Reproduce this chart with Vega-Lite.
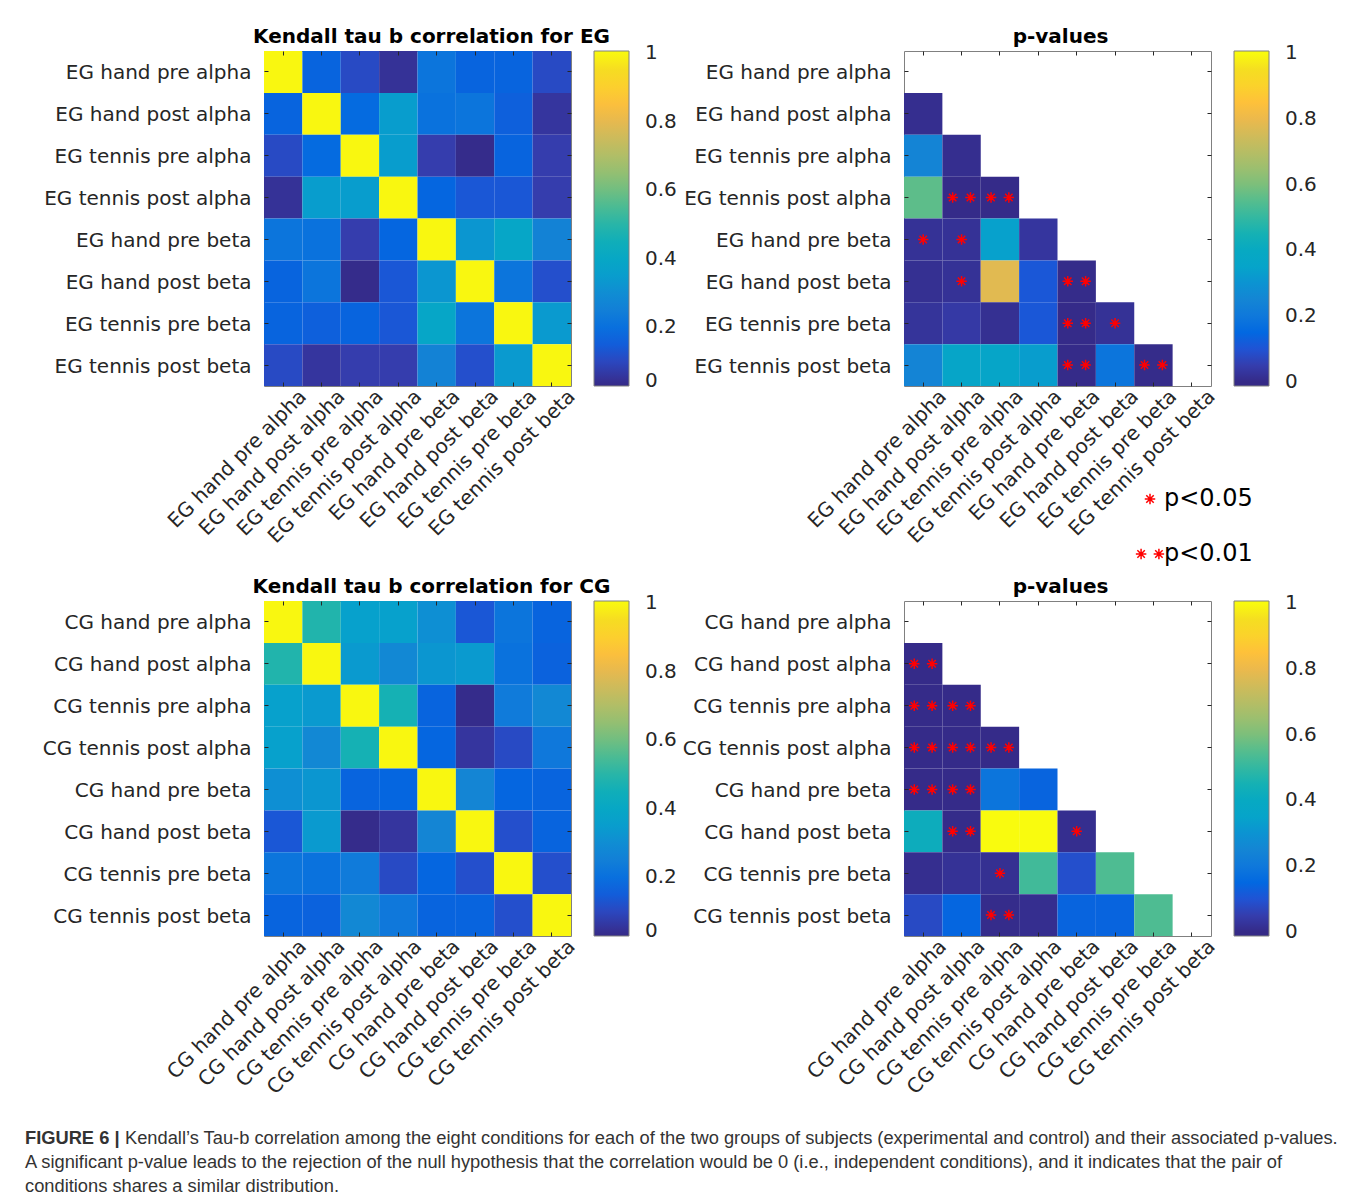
{
"$schema":"https://vega.github.io/schema/vega-lite/v6.json",
"background":"white",
"padding":{"left":25,"top":26,"right":5,"bottom":0},
"autosize":{"type":"pad"},
"bounds":"flush",
"columns":2,
"spacing":{"row":215,"column":333},
"resolve":{"scale":{"color":"independent","shape":"independent"},"legend":{"color":"independent","shape":"independent"}},
"config":{
 "font":"DejaVu Sans",
 "view":{"stroke":"#808080","strokeWidth":1},
 "axis":{"labelFont":"DejaVu Sans","labelFontSize":20,"labelColor":"#262626","domain":false,"ticks":true,"tickColor":"#262626","tickSize":-4,"tickWidth":1,"grid":false,"labelOverlap":false,"labelLimit":400},
 "title":{"font":"DejaVu Sans","fontSize":20,"fontWeight":"bold","color":"#000000","anchor":"middle","frame":"group","offset":4},
 "legend":{"labelFont":"DejaVu Sans","labelOverlap":false,"labelLimit":300}
},
"datasets":{
"egCorr":[
{"r":"EG hand pre alpha","c":"EG hand pre alpha","v":1},{"r":"EG hand pre alpha","c":"EG hand post alpha","v":0.166},{"r":"EG hand pre alpha","c":"EG tennis pre alpha","v":0.107},{"r":"EG hand pre alpha","c":"EG tennis post alpha","v":0.049},{"r":"EG hand pre alpha","c":"EG hand pre beta","v":0.215},{"r":"EG hand pre alpha","c":"EG hand post beta","v":0.166},{"r":"EG hand pre alpha","c":"EG tennis pre beta","v":0.166},{"r":"EG hand pre alpha","c":"EG tennis post beta","v":0.107},
{"r":"EG hand post alpha","c":"EG hand pre alpha","v":0.166},{"r":"EG hand post alpha","c":"EG hand post alpha","v":1},{"r":"EG hand post alpha","c":"EG tennis pre alpha","v":0.185},{"r":"EG hand post alpha","c":"EG tennis post alpha","v":0.351},{"r":"EG hand post alpha","c":"EG hand pre beta","v":0.205},{"r":"EG hand post alpha","c":"EG hand post beta","v":0.215},{"r":"EG hand post alpha","c":"EG tennis pre beta","v":0.156},{"r":"EG hand post alpha","c":"EG tennis post beta","v":0.058},
{"r":"EG tennis pre alpha","c":"EG hand pre alpha","v":0.107},{"r":"EG tennis pre alpha","c":"EG hand post alpha","v":0.185},{"r":"EG tennis pre alpha","c":"EG tennis pre alpha","v":1},{"r":"EG tennis pre alpha","c":"EG tennis post alpha","v":0.351},{"r":"EG tennis pre alpha","c":"EG hand pre beta","v":0.078},{"r":"EG tennis pre alpha","c":"EG hand post beta","v":0.034},{"r":"EG tennis pre alpha","c":"EG tennis pre beta","v":0.166},{"r":"EG tennis pre alpha","c":"EG tennis post beta","v":0.078},
{"r":"EG tennis post alpha","c":"EG hand pre alpha","v":0.049},{"r":"EG tennis post alpha","c":"EG hand post alpha","v":0.351},{"r":"EG tennis post alpha","c":"EG tennis pre alpha","v":0.351},{"r":"EG tennis post alpha","c":"EG tennis post alpha","v":1},{"r":"EG tennis post alpha","c":"EG hand pre beta","v":0.171},{"r":"EG tennis post alpha","c":"EG hand post beta","v":0.136},{"r":"EG tennis post alpha","c":"EG tennis pre beta","v":0.136},{"r":"EG tennis post alpha","c":"EG tennis post beta","v":0.078},
{"r":"EG hand pre beta","c":"EG hand pre alpha","v":0.215},{"r":"EG hand pre beta","c":"EG hand post alpha","v":0.205},{"r":"EG hand pre beta","c":"EG tennis pre alpha","v":0.078},{"r":"EG hand pre beta","c":"EG tennis post alpha","v":0.171},{"r":"EG hand pre beta","c":"EG hand pre beta","v":1},{"r":"EG hand pre beta","c":"EG hand post beta","v":0.332},{"r":"EG hand pre beta","c":"EG tennis pre beta","v":0.39},{"r":"EG hand pre beta","c":"EG tennis post beta","v":0.263},
{"r":"EG hand post beta","c":"EG hand pre alpha","v":0.166},{"r":"EG hand post beta","c":"EG hand post alpha","v":0.215},{"r":"EG hand post beta","c":"EG tennis pre alpha","v":0.034},{"r":"EG hand post beta","c":"EG tennis post alpha","v":0.136},{"r":"EG hand post beta","c":"EG hand pre beta","v":0.332},{"r":"EG hand post beta","c":"EG hand post beta","v":1},{"r":"EG hand post beta","c":"EG tennis pre beta","v":0.215},{"r":"EG hand post beta","c":"EG tennis post beta","v":0.117},
{"r":"EG tennis pre beta","c":"EG hand pre alpha","v":0.166},{"r":"EG tennis pre beta","c":"EG hand post alpha","v":0.156},{"r":"EG tennis pre beta","c":"EG tennis pre alpha","v":0.166},{"r":"EG tennis pre beta","c":"EG tennis post alpha","v":0.136},{"r":"EG tennis pre beta","c":"EG hand pre beta","v":0.39},{"r":"EG tennis pre beta","c":"EG hand post beta","v":0.215},{"r":"EG tennis pre beta","c":"EG tennis pre beta","v":1},{"r":"EG tennis pre beta","c":"EG tennis post beta","v":0.342},
{"r":"EG tennis post beta","c":"EG hand pre alpha","v":0.107},{"r":"EG tennis post beta","c":"EG hand post alpha","v":0.058},{"r":"EG tennis post beta","c":"EG tennis pre alpha","v":0.078},{"r":"EG tennis post beta","c":"EG tennis post alpha","v":0.078},{"r":"EG tennis post beta","c":"EG hand pre beta","v":0.263},{"r":"EG tennis post beta","c":"EG hand post beta","v":0.117},{"r":"EG tennis post beta","c":"EG tennis pre beta","v":0.342},{"r":"EG tennis post beta","c":"EG tennis post beta","v":1}
],
"egP":[
{"r":"EG hand post alpha","c":"EG hand pre alpha","p":0.01,"sig":""},
{"r":"EG tennis pre alpha","c":"EG hand pre alpha","p":0.245,"sig":""},{"r":"EG tennis pre alpha","c":"EG hand post alpha","p":0.01,"sig":""},
{"r":"EG tennis post alpha","c":"EG hand pre alpha","p":0.56,"sig":""},{"r":"EG tennis post alpha","c":"EG hand post alpha","p":0.002,"sig":"**"},{"r":"EG tennis post alpha","c":"EG tennis pre alpha","p":0.002,"sig":"**"},
{"r":"EG hand pre beta","c":"EG hand pre alpha","p":0.02,"sig":"*"},{"r":"EG hand pre beta","c":"EG hand post alpha","p":0.02,"sig":"*"},{"r":"EG hand pre beta","c":"EG tennis pre alpha","p":0.34,"sig":""},{"r":"EG hand pre beta","c":"EG tennis post alpha","p":0.03,"sig":""},
{"r":"EG hand post beta","c":"EG hand pre alpha","p":0.015,"sig":""},{"r":"EG hand post beta","c":"EG hand post alpha","p":0.02,"sig":"*"},{"r":"EG hand post beta","c":"EG tennis pre alpha","p":0.78,"sig":""},{"r":"EG hand post beta","c":"EG tennis post alpha","p":0.11,"sig":""},{"r":"EG hand post beta","c":"EG hand pre beta","p":0.004,"sig":"**"},
{"r":"EG tennis pre beta","c":"EG hand pre alpha","p":0.025,"sig":""},{"r":"EG tennis pre beta","c":"EG hand post alpha","p":0.04,"sig":""},{"r":"EG tennis pre beta","c":"EG tennis pre alpha","p":0.015,"sig":""},{"r":"EG tennis pre beta","c":"EG tennis post alpha","p":0.11,"sig":""},{"r":"EG tennis pre beta","c":"EG hand pre beta","p":0.002,"sig":"**"},{"r":"EG tennis pre beta","c":"EG hand post beta","p":0.02,"sig":"*"},
{"r":"EG tennis post beta","c":"EG hand pre alpha","p":0.245,"sig":""},{"r":"EG tennis post beta","c":"EG hand post alpha","p":0.36,"sig":""},{"r":"EG tennis post beta","c":"EG tennis pre alpha","p":0.36,"sig":""},{"r":"EG tennis post beta","c":"EG tennis post alpha","p":0.33,"sig":""},{"r":"EG tennis post beta","c":"EG hand pre beta","p":0.002,"sig":"**"},{"r":"EG tennis post beta","c":"EG hand post beta","p":0.19,"sig":""},{"r":"EG tennis post beta","c":"EG tennis pre beta","p":0.004,"sig":"**"}
],
"cgCorr":[
{"r":"CG hand pre alpha","c":"CG hand pre alpha","v":1},{"r":"CG hand pre alpha","c":"CG hand post alpha","v":0.488},{"r":"CG hand pre alpha","c":"CG tennis pre alpha","v":0.361},{"r":"CG hand pre alpha","c":"CG tennis post alpha","v":0.361},{"r":"CG hand pre alpha","c":"CG hand pre beta","v":0.307},{"r":"CG hand pre alpha","c":"CG hand post beta","v":0.136},{"r":"CG hand pre alpha","c":"CG tennis pre beta","v":0.215},{"r":"CG hand pre alpha","c":"CG tennis post beta","v":0.166},
{"r":"CG hand post alpha","c":"CG hand pre alpha","v":0.488},{"r":"CG hand post alpha","c":"CG hand post alpha","v":1},{"r":"CG hand post alpha","c":"CG tennis pre alpha","v":0.342},{"r":"CG hand post alpha","c":"CG tennis post alpha","v":0.283},{"r":"CG hand post alpha","c":"CG hand pre beta","v":0.332},{"r":"CG hand post alpha","c":"CG hand post beta","v":0.342},{"r":"CG hand post alpha","c":"CG tennis pre beta","v":0.205},{"r":"CG hand post alpha","c":"CG tennis post beta","v":0.161},
{"r":"CG tennis pre alpha","c":"CG hand pre alpha","v":0.361},{"r":"CG tennis pre alpha","c":"CG hand post alpha","v":0.342},{"r":"CG tennis pre alpha","c":"CG tennis pre alpha","v":1},{"r":"CG tennis pre alpha","c":"CG tennis post alpha","v":0.469},{"r":"CG tennis pre alpha","c":"CG hand pre beta","v":0.166},{"r":"CG tennis pre alpha","c":"CG hand post beta","v":0.034},{"r":"CG tennis pre alpha","c":"CG tennis pre beta","v":0.234},{"r":"CG tennis pre alpha","c":"CG tennis post beta","v":0.283},
{"r":"CG tennis post alpha","c":"CG hand pre alpha","v":0.361},{"r":"CG tennis post alpha","c":"CG hand post alpha","v":0.283},{"r":"CG tennis post alpha","c":"CG tennis pre alpha","v":0.469},{"r":"CG tennis post alpha","c":"CG tennis post alpha","v":1},{"r":"CG tennis post alpha","c":"CG hand pre beta","v":0.171},{"r":"CG tennis post alpha","c":"CG hand post beta","v":0.058},{"r":"CG tennis post alpha","c":"CG tennis pre beta","v":0.107},{"r":"CG tennis post alpha","c":"CG tennis post beta","v":0.224},
{"r":"CG hand pre beta","c":"CG hand pre alpha","v":0.307},{"r":"CG hand pre beta","c":"CG hand post alpha","v":0.332},{"r":"CG hand pre beta","c":"CG tennis pre alpha","v":0.166},{"r":"CG hand pre beta","c":"CG tennis post alpha","v":0.171},{"r":"CG hand pre beta","c":"CG hand pre beta","v":1},{"r":"CG hand pre beta","c":"CG hand post beta","v":0.273},{"r":"CG hand pre beta","c":"CG tennis pre beta","v":0.171},{"r":"CG hand pre beta","c":"CG tennis post beta","v":0.166},
{"r":"CG hand post beta","c":"CG hand pre alpha","v":0.136},{"r":"CG hand post beta","c":"CG hand post alpha","v":0.342},{"r":"CG hand post beta","c":"CG tennis pre alpha","v":0.034},{"r":"CG hand post beta","c":"CG tennis post alpha","v":0.058},{"r":"CG hand post beta","c":"CG hand pre beta","v":0.273},{"r":"CG hand post beta","c":"CG hand post beta","v":1},{"r":"CG hand post beta","c":"CG tennis pre beta","v":0.117},{"r":"CG hand post beta","c":"CG tennis post beta","v":0.166},
{"r":"CG tennis pre beta","c":"CG hand pre alpha","v":0.215},{"r":"CG tennis pre beta","c":"CG hand post alpha","v":0.205},{"r":"CG tennis pre beta","c":"CG tennis pre alpha","v":0.234},{"r":"CG tennis pre beta","c":"CG tennis post alpha","v":0.107},{"r":"CG tennis pre beta","c":"CG hand pre beta","v":0.171},{"r":"CG tennis pre beta","c":"CG hand post beta","v":0.117},{"r":"CG tennis pre beta","c":"CG tennis pre beta","v":1},{"r":"CG tennis pre beta","c":"CG tennis post beta","v":0.117},
{"r":"CG tennis post beta","c":"CG hand pre alpha","v":0.166},{"r":"CG tennis post beta","c":"CG hand post alpha","v":0.161},{"r":"CG tennis post beta","c":"CG tennis pre alpha","v":0.283},{"r":"CG tennis post beta","c":"CG tennis post alpha","v":0.224},{"r":"CG tennis post beta","c":"CG hand pre beta","v":0.166},{"r":"CG tennis post beta","c":"CG hand post beta","v":0.166},{"r":"CG tennis post beta","c":"CG tennis pre beta","v":0.117},{"r":"CG tennis post beta","c":"CG tennis post beta","v":1}
],
"cgP":[
{"r":"CG hand post alpha","c":"CG hand pre alpha","p":0.003,"sig":"**"},
{"r":"CG tennis pre alpha","c":"CG hand pre alpha","p":0.002,"sig":"**"},{"r":"CG tennis pre alpha","c":"CG hand post alpha","p":0.003,"sig":"**"},
{"r":"CG tennis post alpha","c":"CG hand pre alpha","p":0.002,"sig":"**"},{"r":"CG tennis post alpha","c":"CG hand post alpha","p":0.002,"sig":"**"},{"r":"CG tennis post alpha","c":"CG tennis pre alpha","p":0.003,"sig":"**"},
{"r":"CG hand pre beta","c":"CG hand pre alpha","p":0.002,"sig":"**"},{"r":"CG hand pre beta","c":"CG hand post alpha","p":0.003,"sig":"**"},{"r":"CG hand pre beta","c":"CG tennis pre alpha","p":0.19,"sig":""},{"r":"CG hand pre beta","c":"CG tennis post alpha","p":0.14,"sig":""},
{"r":"CG hand post beta","c":"CG hand pre alpha","p":0.42,"sig":""},{"r":"CG hand post beta","c":"CG hand post alpha","p":0.004,"sig":"**"},{"r":"CG hand post beta","c":"CG tennis pre alpha","p":1,"sig":""},{"r":"CG hand post beta","c":"CG tennis post alpha","p":1,"sig":""},{"r":"CG hand post beta","c":"CG hand pre beta","p":0.01,"sig":"*"},
{"r":"CG tennis pre beta","c":"CG hand pre alpha","p":0.01,"sig":""},{"r":"CG tennis pre beta","c":"CG hand post alpha","p":0.02,"sig":""},{"r":"CG tennis pre beta","c":"CG tennis pre alpha","p":0.015,"sig":"*"},{"r":"CG tennis pre beta","c":"CG tennis post alpha","p":0.52,"sig":""},{"r":"CG tennis pre beta","c":"CG hand pre beta","p":0.09,"sig":""},{"r":"CG tennis pre beta","c":"CG hand post beta","p":0.54,"sig":""},
{"r":"CG tennis post beta","c":"CG hand pre alpha","p":0.08,"sig":""},{"r":"CG tennis post beta","c":"CG hand post alpha","p":0.145,"sig":""},{"r":"CG tennis post beta","c":"CG tennis pre alpha","p":0.005,"sig":"**"},{"r":"CG tennis post beta","c":"CG tennis post alpha","p":0.01,"sig":""},{"r":"CG tennis post beta","c":"CG hand pre beta","p":0.14,"sig":""},{"r":"CG tennis post beta","c":"CG hand post beta","p":0.14,"sig":""},{"r":"CG tennis post beta","c":"CG tennis pre beta","p":0.54,"sig":""}
],
"caption":[
{"line":1,"part":"bold","text":"FIGURE 6 |"},
{"line":1,"part":"lead","text":"Kendall’s Tau-b correlation among the eight conditions for each of the two groups of subjects (experimental and control) and their associated p-values."},
{"line":2,"part":"body","text":"A significant p-value leads to the rejection of the null hypothesis that the correlation would be 0 (i.e., independent conditions), and it indicates that the pair of"},
{"line":3,"part":"body","text":"conditions shares a similar distribution."}
]
},
"concat":[
 {"width":307,"height":335,"title":{"text":"Kendall tau b correlation for EG","dx":14},"data":{"name":"egCorr"},
  "layer":[
   {"mark":{"type":"rect"},
    "encoding":{
     "x":{"field":"c","type":"nominal","scale":{"domain":["EG hand pre alpha","EG hand post alpha","EG tennis pre alpha","EG tennis post alpha","EG hand pre beta","EG hand post beta","EG tennis pre beta","EG tennis post beta"]},"axis":{"orient":"bottom","title":null,"labelAngle":-45,"labelAlign":"right","labelBaseline":"middle","labelOffset":20,"labelPadding":11}},
     "y":{"field":"r","type":"nominal","scale":{"domain":["EG hand pre alpha","EG hand post alpha","EG tennis pre alpha","EG tennis post alpha","EG hand pre beta","EG hand post beta","EG tennis pre beta","EG tennis post beta"]},"axis":{"orient":"left","title":null,"labelPadding":17,"labelOffset":1.5}},
     "color":{"field":"v","type":"quantitative","scale":{"domain":[0.029,0.0779,0.1267,0.1756,0.2244,0.2733,0.3221,0.371,0.4198,0.4687,0.5175,0.5664,0.6152,0.6641,0.7129,0.7618,0.8106,0.8595,0.9083,0.9572,1.006],"range":["#352a87","#353dad","#2053d4","#0268e1","#0f78db","#1485d4","#0c93d2","#06a4ca","#07a9c2","#15b1b4","#33b8a1","#55bd8e","#7cbf7b","#9cbf6f","#b7bd64","#d1bb59","#ecb94c","#fec13a","#fbd22b","#f5de21","#f9fb0e"],"interpolate":"rgb"},
      "legend":{"title":null,"orient":"right","offset":22,"direction":"vertical","gradientLength":335,"gradientThickness":35,"values":[0.045,0.2,0.4,0.6,0.8,1],"labelExpr":"datum.value < 0.1 ? '0' : format(datum.value, '.1~f')","labelFontSize":20,"labelOffset":16,"labelColor":"#262626","gradientStrokeColor":"#808080","gradientStrokeWidth":1,"padding":0}}
    }},
   {"mark":{"type":"rect","opacity":0},
    "encoding":{
     "x":{"field":"c","type":"nominal","scale":{"domain":["EG hand pre alpha","EG hand post alpha","EG tennis pre alpha","EG tennis post alpha","EG hand pre beta","EG hand post beta","EG tennis pre beta","EG tennis post beta"]},"axis":{"orient":"top","title":null,"labels":false}},
     "y":{"field":"r","type":"nominal","scale":{"domain":["EG hand pre alpha","EG hand post alpha","EG tennis pre alpha","EG tennis post alpha","EG hand pre beta","EG hand post beta","EG tennis pre beta","EG tennis post beta"]},"axis":{"orient":"right","title":null,"labels":false}}
    }}
  ],
  "resolve":{"axis":{"x":"independent","y":"independent"}}
 },
 {"width":307,"height":335,"title":{"text":"p-values","dx":3},"data":{"name":"egP"},
  "layer":[
   {"mark":{"type":"rect"},
    "encoding":{
     "x":{"field":"c","type":"nominal","scale":{"domain":["EG hand pre alpha","EG hand post alpha","EG tennis pre alpha","EG tennis post alpha","EG hand pre beta","EG hand post beta","EG tennis pre beta","EG tennis post beta"]},"axis":{"orient":"bottom","title":null,"labelAngle":-45,"labelAlign":"right","labelBaseline":"middle","labelOffset":20,"labelPadding":11}},
     "y":{"field":"r","type":"nominal","scale":{"domain":["EG hand pre alpha","EG hand post alpha","EG tennis pre alpha","EG tennis post alpha","EG hand pre beta","EG hand post beta","EG tennis pre beta","EG tennis post beta"]},"axis":{"orient":"left","title":null,"labelPadding":17,"labelOffset":1.5}},
     "color":{"field":"p","type":"quantitative","scale":{"domain":[-0.012,0,0.05,0.1,0.15,0.2,0.25,0.3,0.35,0.4,0.45,0.5,0.55,0.6,0.65,0.7,0.75,0.8,0.85,0.9,0.95,1,1.006],"range":["#352a87","#352a87","#353dad","#2053d4","#0268e1","#0f78db","#1485d4","#0c93d2","#06a4ca","#07a9c2","#15b1b4","#33b8a1","#55bd8e","#7cbf7b","#9cbf6f","#b7bd64","#d1bb59","#ecb94c","#fec13a","#fbd22b","#f5de21","#f9fb0e","#f9fb0e"],"interpolate":"rgb"},
      "legend":{"title":null,"orient":"right","offset":22,"direction":"vertical","gradientLength":335,"gradientThickness":35,"values":[0,0.2,0.4,0.6,0.8,1],"format":".1~f","labelFontSize":20,"labelOffset":16,"labelColor":"#262626","gradientStrokeColor":"#808080","gradientStrokeWidth":1,"padding":0}}
    }},
   {"transform":[{"filter":"datum.sig != ''"}],
    "mark":{"type":"point","filled":false,"color":"#ff0000","stroke":"#ff0000","strokeWidth":1.5,"size":110,"opacity":1},
    "encoding":{
     "x":{"field":"c","type":"nominal","scale":{"domain":["EG hand pre alpha","EG hand post alpha","EG tennis pre alpha","EG tennis post alpha","EG hand pre beta","EG hand post beta","EG tennis pre beta","EG tennis post beta"]},"axis":{"orient":"top","title":null,"labels":false}},
     "y":{"field":"r","type":"nominal","scale":{"domain":["EG hand pre alpha","EG hand post alpha","EG tennis pre alpha","EG tennis post alpha","EG hand pre beta","EG hand post beta","EG tennis pre beta","EG tennis post beta"]},"axis":{"orient":"right","title":null,"labels":false}},
     "shape":{"field":"sig","type":"nominal","scale":{"domain":["*","**"],"range":["M0,-1L0,1M-1,0L1,0M-0.71,-0.71L0.71,0.71M-0.71,0.71L0.71,-0.71","M-1.7,-1L-1.7,1M-2.7,0L-0.7,0M-2.41,-0.71L-0.99,0.71M-2.41,0.71L-0.99,-0.71M1.7,-1L1.7,1M0.7,0L2.7,0M0.99,-0.71L2.41,0.71M0.99,0.71L2.41,-0.71"]},
      "legend":{"title":null,"orient":"none","legendX":234,"legendY":436,"labelExpr":"datum.label == '*' ? 'p<0.05' : 'p<0.01'","labelFontSize":24,"labelColor":"#000000","symbolSize":110,"symbolStrokeWidth":1.5,"symbolStrokeColor":"#ff0000","symbolFillColor":"transparent","labelOffset":2,"rowPadding":31,"padding":0}}
    }}
  ],
  "resolve":{"axis":{"x":"independent","y":"independent"}}
 },
 {"width":307,"height":335,"title":{"text":"Kendall tau b correlation for CG","dx":14},"data":{"name":"cgCorr"},
  "layer":[
   {"mark":{"type":"rect"},
    "encoding":{
     "x":{"field":"c","type":"nominal","scale":{"domain":["CG hand pre alpha","CG hand post alpha","CG tennis pre alpha","CG tennis post alpha","CG hand pre beta","CG hand post beta","CG tennis pre beta","CG tennis post beta"]},"axis":{"orient":"bottom","title":null,"labelAngle":-45,"labelAlign":"right","labelBaseline":"middle","labelOffset":20,"labelPadding":11}},
     "y":{"field":"r","type":"nominal","scale":{"domain":["CG hand pre alpha","CG hand post alpha","CG tennis pre alpha","CG tennis post alpha","CG hand pre beta","CG hand post beta","CG tennis pre beta","CG tennis post beta"]},"axis":{"orient":"left","title":null,"labelPadding":17,"labelOffset":1.5}},
     "color":{"field":"v","type":"quantitative","scale":{"domain":[0.029,0.0779,0.1267,0.1756,0.2244,0.2733,0.3221,0.371,0.4198,0.4687,0.5175,0.5664,0.6152,0.6641,0.7129,0.7618,0.8106,0.8595,0.9083,0.9572,1.006],"range":["#352a87","#353dad","#2053d4","#0268e1","#0f78db","#1485d4","#0c93d2","#06a4ca","#07a9c2","#15b1b4","#33b8a1","#55bd8e","#7cbf7b","#9cbf6f","#b7bd64","#d1bb59","#ecb94c","#fec13a","#fbd22b","#f5de21","#f9fb0e"],"interpolate":"rgb"},
      "legend":{"title":null,"orient":"right","offset":22,"direction":"vertical","gradientLength":335,"gradientThickness":35,"values":[0.045,0.2,0.4,0.6,0.8,1],"labelExpr":"datum.value < 0.1 ? '0' : format(datum.value, '.1~f')","labelFontSize":20,"labelOffset":16,"labelColor":"#262626","gradientStrokeColor":"#808080","gradientStrokeWidth":1,"padding":0}}
    }},
   {"mark":{"type":"rect","opacity":0},
    "encoding":{
     "x":{"field":"c","type":"nominal","scale":{"domain":["CG hand pre alpha","CG hand post alpha","CG tennis pre alpha","CG tennis post alpha","CG hand pre beta","CG hand post beta","CG tennis pre beta","CG tennis post beta"]},"axis":{"orient":"top","title":null,"labels":false}},
     "y":{"field":"r","type":"nominal","scale":{"domain":["CG hand pre alpha","CG hand post alpha","CG tennis pre alpha","CG tennis post alpha","CG hand pre beta","CG hand post beta","CG tennis pre beta","CG tennis post beta"]},"axis":{"orient":"right","title":null,"labels":false}}
    }}
  ],
  "resolve":{"axis":{"x":"independent","y":"independent"}}
 },
 {"width":307,"height":335,"title":{"text":"p-values","dx":3},"data":{"name":"cgP"},
  "layer":[
   {"mark":{"type":"rect"},
    "encoding":{
     "x":{"field":"c","type":"nominal","scale":{"domain":["CG hand pre alpha","CG hand post alpha","CG tennis pre alpha","CG tennis post alpha","CG hand pre beta","CG hand post beta","CG tennis pre beta","CG tennis post beta"]},"axis":{"orient":"bottom","title":null,"labelAngle":-45,"labelAlign":"right","labelBaseline":"middle","labelOffset":20,"labelPadding":11}},
     "y":{"field":"r","type":"nominal","scale":{"domain":["CG hand pre alpha","CG hand post alpha","CG tennis pre alpha","CG tennis post alpha","CG hand pre beta","CG hand post beta","CG tennis pre beta","CG tennis post beta"]},"axis":{"orient":"left","title":null,"labelPadding":17,"labelOffset":1.5}},
     "color":{"field":"p","type":"quantitative","scale":{"domain":[-0.012,0,0.05,0.1,0.15,0.2,0.25,0.3,0.35,0.4,0.45,0.5,0.55,0.6,0.65,0.7,0.75,0.8,0.85,0.9,0.95,1,1.006],"range":["#352a87","#352a87","#353dad","#2053d4","#0268e1","#0f78db","#1485d4","#0c93d2","#06a4ca","#07a9c2","#15b1b4","#33b8a1","#55bd8e","#7cbf7b","#9cbf6f","#b7bd64","#d1bb59","#ecb94c","#fec13a","#fbd22b","#f5de21","#f9fb0e","#f9fb0e"],"interpolate":"rgb"},
      "legend":{"title":null,"orient":"right","offset":22,"direction":"vertical","gradientLength":335,"gradientThickness":35,"values":[0,0.2,0.4,0.6,0.8,1],"format":".1~f","labelFontSize":20,"labelOffset":16,"labelColor":"#262626","gradientStrokeColor":"#808080","gradientStrokeWidth":1,"padding":0}}
    }},
   {"transform":[{"filter":"datum.sig != ''"}],
    "mark":{"type":"point","filled":false,"color":"#ff0000","stroke":"#ff0000","strokeWidth":1.5,"size":110,"opacity":1},
    "encoding":{
     "x":{"field":"c","type":"nominal","scale":{"domain":["CG hand pre alpha","CG hand post alpha","CG tennis pre alpha","CG tennis post alpha","CG hand pre beta","CG hand post beta","CG tennis pre beta","CG tennis post beta"]},"axis":{"orient":"top","title":null,"labels":false}},
     "y":{"field":"r","type":"nominal","scale":{"domain":["CG hand pre alpha","CG hand post alpha","CG tennis pre alpha","CG tennis post alpha","CG hand pre beta","CG hand post beta","CG tennis pre beta","CG tennis post beta"]},"axis":{"orient":"right","title":null,"labels":false}},
     "shape":{"field":"sig","type":"nominal","scale":{"domain":["*","**"],"range":["M0,-1L0,1M-1,0L1,0M-0.71,-0.71L0.71,0.71M-0.71,0.71L0.71,-0.71","M-1.7,-1L-1.7,1M-2.7,0L-0.7,0M-2.41,-0.71L-0.99,0.71M-2.41,0.71L-0.99,-0.71M1.7,-1L1.7,1M0.7,0L2.7,0M0.99,-0.71L2.41,0.71M0.99,0.71L2.41,-0.71"]},"legend":null}
    }}
  ],
  "resolve":{"axis":{"x":"independent","y":"independent"}}
 },
 {"width":307,"height":48,"view":{"stroke":null},"data":{"name":"caption"},
  "layer":[
   {"transform":[{"filter":"datum.part == 'bold'"}],
    "mark":{"type":"text","align":"left","baseline":"middle","font":"Liberation Sans","fontSize":18.3,"fontWeight":"bold","color":"#333333","dx":-239,"dy":-12},
    "encoding":{"x":{"value":0},"y":{"field":"line","type":"ordinal","axis":null,"scale":{"domain":[1,2,3],"padding":0}},"text":{"field":"text"}}},
   {"transform":[{"filter":"datum.part == 'lead'"}],
    "mark":{"type":"text","align":"left","baseline":"middle","font":"Liberation Sans","fontSize":18.3,"color":"#333333","dx":-139,"dy":-12},
    "encoding":{"x":{"value":0},"y":{"field":"line","type":"ordinal","axis":null,"scale":{"domain":[1,2,3],"padding":0}},"text":{"field":"text"}}},
   {"transform":[{"filter":"datum.part == 'body'"}],
    "mark":{"type":"text","align":"left","baseline":"middle","font":"Liberation Sans","fontSize":18.3,"color":"#333333","dx":-239,"dy":-12},
    "encoding":{"x":{"value":0},"y":{"field":"line","type":"ordinal","axis":null,"scale":{"domain":[1,2,3],"padding":0}},"text":{"field":"text"}}}
  ]
 }
]
}
